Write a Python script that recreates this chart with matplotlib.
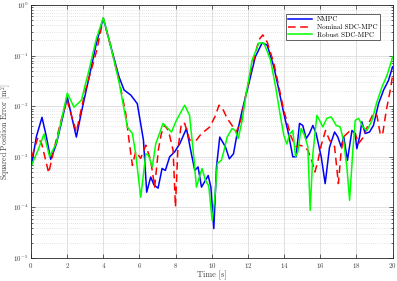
import numpy as np
import matplotlib
matplotlib.use("Agg")
import matplotlib.pyplot as plt

plt.rcParams['font.family'] = 'cmr10'
plt.rcParams['mathtext.fontset'] = 'cm'
plt.rcParams['axes.formatter.use_mathtext'] = True

# NMPC (log10 of squared error)
t_nmpc = [0.05, 0.3, 0.61, 0.85, 1.09, 1.4, 1.7, 2.01, 2.25, 2.51, 2.8, 3.2, 3.62, 4.0, 4.4,
          4.87, 5.15, 5.52, 5.88, 6.22, 6.4, 6.62, 6.81, 7.03, 7.25, 7.43, 7.67, 7.95, 8.23,
          8.6, 8.87, 9.06, 9.24, 9.43, 9.8, 9.95, 10.11, 10.26, 10.44, 10.75, 10.97, 11.2,
          11.4, 11.68, 12.05, 12.41, 12.78, 13.06, 13.43, 13.71, 13.98, 14.22, 14.48, 14.66,
          14.85, 15.03, 15.22, 15.4, 15.59, 15.77, 16.05, 16.27, 16.51, 16.79, 16.97, 17.15,
          17.3, 17.5, 17.75, 17.93, 18.02, 18.17, 18.3, 18.48, 18.72, 18.94, 19.22, 19.5,
          19.77, 20.0]
e_nmpc = [-3.13, -2.6, -2.22, -2.6, -3.05, -2.75, -2.3, -1.82, -2.2, -2.61, -2.1, -1.45, -0.75,
          -0.26, -0.8, -1.42, -1.68, -1.78, -1.95, -2.67, -3.70, -3.40, -3.56, -3.62, -3.23,
          -3.27, -3.0, -2.9, -2.74, -2.44, -2.94, -3.27, -3.2, -3.6, -3.37, -3.6, -4.42, -3.2,
          -2.61, -2.8, -3.04, -2.94, -2.54, -2.08, -1.55, -1.02, -0.75, -0.79, -1.22, -1.68,
          -2.14, -2.51, -3.0, -3.0, -2.34, -2.38, -2.64, -2.54, -2.38, -2.54, -3.0, -3.53,
          -2.81, -2.51, -2.61, -2.8, -2.61, -3.07, -2.48, -2.54, -2.84, -2.61, -2.31, -2.54,
          -2.51, -2.38, -1.95, -1.68, -1.49, -1.22]

# Nominal SDC-MPC
t_nom = [0.05, 0.39, 0.6, 0.98, 1.31, 1.65, 1.99, 2.25, 2.51, 3.0, 3.62, 4.0, 4.4, 4.87, 5.24,
         5.42, 5.61, 5.79, 6.07, 6.35, 6.62, 6.84, 7.05, 7.21, 7.39, 7.6, 7.86, 7.99, 8.12,
         8.32, 8.5, 8.78, 9.15, 9.43, 9.89, 10.17, 10.4, 10.6, 10.85, 11.12, 11.34, 11.58,
         11.86, 12.23, 12.6, 12.82, 13.06, 13.43, 13.71, 13.98, 14.15, 14.39, 14.66, 14.85,
         15.12, 15.31, 15.55, 15.7, 15.86, 16.05, 16.29, 16.51, 16.79, 17.0, 17.15, 17.3,
         17.6, 17.93, 18.11, 18.39, 18.67, 18.94, 19.13, 19.31, 19.44, 19.65, 19.87, 20.0]
e_nom = [-3.0, -2.61, -2.75, -3.32, -2.8, -2.3, -1.87, -2.2, -2.51, -1.7, -0.92, -0.27, -0.8,
         -1.49, -2.14, -2.67, -3.17, -2.9, -3.03, -2.77, -3.07, -3.6, -2.85, -2.54, -2.38,
         -2.48, -2.87, -3.99, -2.87, -2.34, -2.34, -2.67, -2.67, -2.54, -2.41, -2.21, -1.98,
         -2.05, -2.24, -2.38, -2.51, -2.34, -1.81, -1.22, -0.69, -0.59, -0.73, -1.15, -1.62,
         -2.08, -2.3, -2.61, -2.8, -2.77, -2.8, -2.87, -3.1, -3.3, -3.1, -2.77, -2.48, -2.67,
         -2.8, -3.53, -2.9, -2.6, -2.5, -2.54, -2.74, -2.61, -2.34, -2.14, -2.18, -2.54,
         -2.57, -2.08, -1.68, -1.39]

# Robust SDC-MPC
t_rob = [0.05, 0.39, 0.72, 1.03, 1.4, 1.7, 2.01, 2.38, 2.79, 3.2, 3.62, 4.0, 4.4, 4.87, 5.33,
         5.61, 5.79, 6.07, 6.35, 6.5, 6.71, 6.9, 7.05, 7.3, 7.47, 7.77, 8.04, 8.5, 8.77, 9.02,
         9.15, 9.34, 9.46, 9.65, 9.83, 10.02, 10.17, 10.31, 10.53, 10.68, 10.85, 11.12, 11.3,
         11.46, 11.68, 11.9, 12.23, 12.6, 12.88, 13.25, 13.53, 13.8, 13.98, 14.15, 14.3,
         14.48, 14.63, 14.76, 14.94, 15.12, 15.31, 15.44, 15.59, 15.81, 15.96, 16.14, 16.36,
         16.6, 16.88, 17.1, 17.28, 17.47, 17.62, 17.8, 17.93, 18.12, 18.36, 18.58, 18.86,
         19.1, 19.41, 19.69, 20.0]
e_rob = [-3.15, -2.87, -2.55, -3.0, -2.73, -2.25, -1.74, -2.02, -1.88, -1.3, -0.66, -0.25, -0.8,
         -1.52, -2.41, -2.54, -2.94, -3.80, -2.94, -2.97, -3.2, -2.74, -2.6, -2.34, -2.4,
         -2.51, -2.28, -1.98, -2.18, -3.07, -3.6, -3.37, -3.23, -3.47, -3.57, -4.26, -3.8,
         -3.13, -3.07, -2.87, -2.61, -2.44, -2.48, -2.64, -2.28, -1.75, -1.09, -0.75, -0.75,
         -1.09, -1.62, -2.21, -2.57, -2.75, -2.55, -2.48, -3.0, -2.9, -2.44, -2.57, -2.8,
         -4.06, -2.94, -2.18, -2.28, -2.41, -2.24, -2.21, -2.38, -2.41, -2.67, -3.2, -3.86,
         -2.87, -2.28, -2.24, -2.41, -2.48, -2.28, -1.95, -1.62, -1.39, -1.03]

fig = plt.figure(figsize=(3.97, 2.81), dpi=100)
ax = fig.add_axes([0.078, 0.082, 0.911, 0.9])

ax.plot(t_nmpc, 10 ** np.array(e_nmpc), color=(0, 0, 1), lw=1.1, label='NMPC')
ax.plot(t_nom, 10 ** np.array(e_nom), color=(1, 0, 0), lw=1.1, dashes=(5, 3),
        label='Nominal SDC-MPC')
ax.plot(t_rob, 10 ** np.array(e_rob), color=(0, 1, 0), lw=1.1, label='Robust SDC-MPC')

ax.set_yscale('log')
ax.set_xlim(0, 20)
ax.set_ylim(1e-5, 1)
ax.set_xticks(np.arange(0, 21, 2))

# matlab style grid
ax.grid(True, which='major', color='#dcdcdc', lw=0.6)
ax.grid(True, which='minor', color='#cccccc', lw=0.5, ls=(0, (1, 2)))
ax.set_axisbelow(True)
ax.tick_params(which='both', direction='in', top=True, right=True, labelsize=5,
               color='#262626', labelcolor='#404040', width=0.5, pad=2)
ax.tick_params(which='major', length=3)
ax.tick_params(which='minor', length=1.5)
for s in ax.spines.values():
    s.set_color('#262626')
    s.set_linewidth(0.6)

ax.set_xlabel('Time [s]', fontsize=6, color='#404040', va='center')
ax.set_ylabel('Squared Position Error [m$^2$]', fontsize=5.6, color='#404040', va='center')
ax.xaxis.set_label_coords(0.5, -0.067)
ax.yaxis.set_label_coords(-0.067, 0.5)

leg = ax.legend(loc='upper right', fontsize=5, fancybox=False, framealpha=1,
                edgecolor='#262626', handlelength=3.4, borderpad=0.35, labelspacing=0.25,
                bbox_to_anchor=(0.975, 0.978))
leg.get_frame().set_linewidth(0.5)

fig.savefig('out.png', dpi=100)
